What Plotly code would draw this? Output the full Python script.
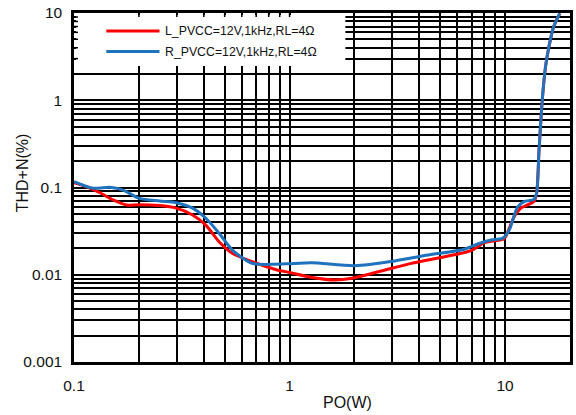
import math
import plotly.graph_objects as go

# THD+N versus output power, left and right channels
po_left = [0.1, 0.1144, 0.132, 0.152, 0.175, 0.2, 0.249, 0.298, 0.355, 0.409, 0.471,
           0.543, 0.671, 0.861, 1.0, 1.27, 1.63, 1.94, 2.58, 3.67, 5.24, 6.95, 8.01,
           8.9, 9.9, 11.0, 11.83, 13.6, 14.0, 14.37, 14.87, 15.4, 15.97, 16.8, 17.95]
thd_left = [0.1135, 0.102, 0.087, 0.072, 0.063, 0.0636, 0.062, 0.058, 0.0484, 0.037,
            0.0239, 0.0176, 0.0141, 0.0115, 0.0106, 0.0093, 0.0087, 0.0091, 0.0108,
            0.0135, 0.0161, 0.0189, 0.0233, 0.0245, 0.026, 0.046, 0.058, 0.069, 0.0857,
            0.269, 1.0, 2.43, 4.11, 6.96, 9.9]

po_right = [0.1, 0.123, 0.1466, 0.169, 0.201, 0.249, 0.298, 0.355, 0.409, 0.471, 0.543,
            0.671, 0.861, 1.0, 1.27, 2.01, 3.08, 4.39, 6.48, 7.46, 8.59, 9.73, 10.45,
            11.4, 12.25, 13.6, 14.0, 14.37, 14.87, 15.4, 15.97, 16.8, 17.95]
thd_right = [0.117, 0.098, 0.1005, 0.0935, 0.075, 0.070, 0.067, 0.058, 0.0444, 0.0299,
             0.0192, 0.0135, 0.0132, 0.0134, 0.0137, 0.0127, 0.0144, 0.0168, 0.0196,
             0.0225, 0.025, 0.0262, 0.0326, 0.0593, 0.069, 0.073, 0.0857, 0.269, 1.0,
             2.43, 4.11, 6.96, 9.9]

name_left = "L_PVCC=12V,1kHz,RL=4Ω"
name_right = "R_PVCC=12V,1kHz,RL=4Ω"
color_left = "#FF0000"
color_right = "#1F72BD"

# log grid: every 1..9 multiple inside each decade, labels only on decades
x_decades = [0.1, 1, 10]
y_decades = [0.001, 0.01, 0.1, 1, 10]
x_labels = ["0.1", "1", "10"]
y_labels = ["0.001", "0.01", "0.1", "1", "10"]
X_MIN, X_MAX = 0.1, 20
Y_MIN, Y_MAX = 0.001, 10


def log_ticks(decades, labels, upper):
    vals, texts = [], []
    for d, lab in zip(decades, labels):
        for m in range(1, 10):
            v = d * m
            if v > upper * 1.0001:
                break
            vals.append(v)
            texts.append(lab if m == 1 else "")
    return vals, texts


x_vals, x_text = log_ticks(x_decades, x_labels, X_MAX)
y_vals, y_text = log_ticks(y_decades, y_labels, Y_MAX)

fig = go.Figure()
fig.add_trace(go.Scatter(x=po_left, y=thd_left, mode="lines", name=name_left,
                         line=dict(color=color_left, width=3, shape="spline", smoothing=0.7),
                         showlegend=False))
fig.add_trace(go.Scatter(x=po_right, y=thd_right, mode="lines", name=name_right,
                         line=dict(color=color_right, width=3, shape="spline", smoothing=0.7),
                         showlegend=False))

# plot area in pixels: x 74..573, y 13..362
L, R, T, B = 74, 573, 13, 362
W, H = R - L, B - T


def px(x):
    return (x - L) / W


def py(y):
    return (B - y) / H


def xfrac(v):
    return (math.log10(v) - math.log10(X_MIN)) / (math.log10(X_MAX) - math.log10(X_MIN))


def yfrac(v):
    return (math.log10(v) - math.log10(Y_MIN)) / (math.log10(Y_MAX) - math.log10(Y_MIN))


axis_font = dict(family="Liberation Sans, Arial, sans-serif", size=15.5, color="#111111")

fig.update_xaxes(type="log", range=[math.log10(X_MIN), math.log10(X_MAX)],
                 tickvals=x_vals, ticktext=x_text,
                 showgrid=True, gridcolor="black", gridwidth=2,
                 ticks="inside", ticklen=4, tickwidth=1.5, tickcolor="black",
                 showline=True, linecolor="black", linewidth=2.5, mirror="ticks",
                 zeroline=False, tickfont=axis_font, ticklabelstandoff=8)
fig.update_yaxes(type="log", range=[math.log10(Y_MIN), math.log10(Y_MAX)],
                 tickvals=y_vals, ticktext=y_text,
                 showgrid=True, gridcolor="black", gridwidth=2,
                 ticks="inside", ticklen=4, tickwidth=1.5, tickcolor="black",
                 showline=True, linecolor="black", linewidth=2.5, mirror="ticks",
                 zeroline=False, tickfont=axis_font, ticklabelstandoff=6)

# white panel behind the legend hides the grid there
box_left, box_right, box_top, box_bottom = 76, 347, 15, 66
fig.add_shape(type="rect", xref="paper", yref="paper",
              x0=px(box_left), x1=px(box_right), y0=py(box_bottom), y1=py(box_top),
              fillcolor="white", line=dict(width=0), layer="above")

# short inside ticks that stay visible along the panel's edges
tick_px = 4
for v in y_vals:
    f = yfrac(v)
    if py(box_bottom) < f < py(box_top):
        fig.add_shape(type="line", xref="paper", yref="paper",
                      x0=0, x1=tick_px / W, y0=f, y1=f,
                      line=dict(color="black", width=1.5), layer="above")
for v in x_vals:
    f = xfrac(v)
    if px(box_left) < f < px(box_right):
        fig.add_shape(type="line", xref="paper", yref="paper",
                      x0=f, x1=f, y0=1, y1=1 - tick_px / H,
                      line=dict(color="black", width=1.5), layer="above")

legend_font = dict(family="Liberation Sans, Arial, sans-serif", size=12.3, color="#111111")
for name, color, ypix in [(name_left, color_left, 31), (name_right, color_right, 51.5)]:
    fig.add_shape(type="line", xref="paper", yref="paper",
                  x0=px(106.5), x1=px(160), y0=py(ypix), y1=py(ypix),
                  line=dict(color=color, width=3), layer="above")
    fig.add_annotation(xref="paper", yref="paper", x=px(164), y=py(ypix),
                       text=name, showarrow=False, xanchor="left", yanchor="middle",
                       font=legend_font)

title_font = dict(family="Liberation Sans, Arial, sans-serif", size=16, color="#111111")
fig.add_annotation(xref="paper", yref="paper", x=px(349), y=py(402),
                   text="PO(W)", showarrow=False, xanchor="center", yanchor="middle",
                   font=title_font)
fig.add_annotation(xref="paper", yref="paper", x=px(22), y=py(173),
                   text="THD+N(%)", showarrow=False, xanchor="center", yanchor="middle",
                   textangle=-90, font=title_font)

fig.update_layout(width=576, height=415,
                  margin=dict(l=L, r=576 - R, t=T, b=415 - B),
                  paper_bgcolor="white", plot_bgcolor="white")

fig.write_html("out.html")
